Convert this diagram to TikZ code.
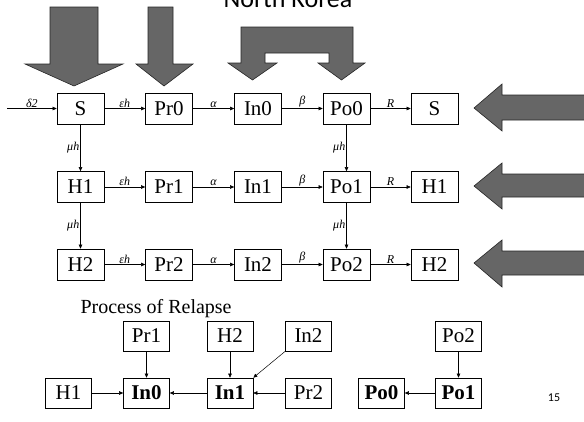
\documentclass[tikz,border=0pt]{standalone}
\usepackage{fontspec}
\setmainfont{Liberation Serif}
\newfontfamily\slidefont{Carlito}
\usepackage{tikz}
\usetikzlibrary{arrows.meta}

\begin{document}
\begin{tikzpicture}[x=1pt, y=-1pt,
    box/.style={draw, line width=0.6pt, minimum width=47pt, minimum height=31pt,
                inner sep=0pt, font=\fontsize{21}{21}\selectfont},
    sbox/.style={box, minimum width=46pt, minimum height=30pt},
    flow/.style={-{Triangle[length=4pt,width=3.5pt]}, line width=0.5pt},
    rate/.style={midway, above, inner sep=1pt, font=\fontsize{12}{12}\selectfont\itshape},
    vrate/.style={midway, left, inner sep=1pt, font=\fontsize{12}{12}\selectfont\itshape},
    bigarrow/.style={fill=black!60, draw=black!85, line width=0.6pt}
]

    \useasboundingbox (0,0) rectangle (584,421);
    \clip (0,0) rectangle (584,421);

    % Slide title (cut by the top edge)
    \node[anchor=base, font=\slidefont\fontsize{26}{26}\selectfont] (title) at (288,7) {North Korea};

    % Big arrows from above
    \draw[bigarrow] (50,7) -- (98,7) -- (98,64) -- (123,64) -- (74,86) -- (25,64) -- (50,64) -- cycle;
    \draw[bigarrow] (148,7) -- (173,7) -- (173,64) -- (193,64) -- (164,86) -- (136,64) -- (148,64) -- cycle;

    % U-shaped arrow onto In0 and Po0
    \draw[bigarrow] (241,27) -- (353,27) -- (353,63) -- (365,63) -- (341.5,80) -- (318,63)
        -- (329,63) -- (329,53) -- (265,53) -- (265,63) -- (277,63) -- (252.5,80)
        -- (228,63) -- (241,63) -- cycle;

    % Big arrows from the right
    \draw[bigarrow] (474,108) -- (502,84) -- (502,95) -- (590,95) -- (590,120) -- (502,120) -- (502,131) -- cycle;
    \draw[bigarrow] (474,186) -- (502,163) -- (502,174) -- (590,174) -- (590,197) -- (502,197) -- (502,209) -- cycle;
    \draw[bigarrow] (474,263) -- (502,240) -- (502,251) -- (590,251) -- (590,275) -- (502,275) -- (502,287) -- cycle;

    % Row 0
    \node[box] (S0) at (80.5,108.5) {S};
    \node[box] (Pr0) at (169,108.5) {Pr0};
    \node[box] (In0) at (258,108.5) {In0};
    \node[box] (Po0) at (346.5,108.5) {Po0};
    \node[box] (S0r) at (434.5,108.5) {S};
    \coordinate (d2) at (7,108.5);

    % Row 1
    \node[box] (H1) at (80.5,187) {H1};
    \node[box] (Pr1) at (169,187) {Pr1};
    \node[box] (In1) at (258,187) {In1};
    \node[box] (Po1) at (346.5,187) {Po1};
    \node[box] (H1r) at (434.5,187) {H1};

    % Row 2
    \node[box] (H2) at (80.5,264.5) {H2};
    \node[box] (Pr2) at (169,264.5) {Pr2};
    \node[box] (In2) at (258,264.5) {In2};
    \node[box] (Po2) at (346.5,264.5) {Po2};
    \node[box] (H2r) at (434.5,264.5) {H2};

    % Flows along the rows
    \draw[flow] (d2) -- node[rate] {δ2} (S0);
    \draw[flow] (S0) -- node[rate] {εh} (Pr0);
    \draw[flow] (Pr0) -- node[rate] {α} (In0);
    \draw[flow] (In0) -- node[rate] {β} (Po0);
    \draw[flow] (Po0) -- node[rate] {R} (S0r);

    \draw[flow] (H1) -- node[rate] {εh} (Pr1);
    \draw[flow] (Pr1) -- node[rate] {α} (In1);
    \draw[flow] (In1) -- node[rate] {β} (Po1);
    \draw[flow] (Po1) -- node[rate] {R} (H1r);

    \draw[flow] (H2) -- node[rate] {εh} (Pr2);
    \draw[flow] (Pr2) -- node[rate] {α} (In2);
    \draw[flow] (In2) -- node[rate] {β} (Po2);
    \draw[flow] (Po2) -- node[rate] {R} (H2r);

    % Flows down the columns
    \draw[flow] (S0) -- node[vrate] {μh} (H1);
    \draw[flow] (H1) -- node[vrate] {μh} (H2);
    \draw[flow] (Po0) -- node[vrate] {μh} (Po1);
    \draw[flow] (Po1) -- node[vrate] {μh} (Po2);

    % Process of relapse
    \node[anchor=base west, font=\fontsize{20}{20}\selectfont] (relapse) at (77,313) {Process of Relapse};

    \node[sbox] (rPr1) at (146.5,336) {Pr1};
    \node[sbox] (rH2) at (230,336) {H2};
    \node[sbox] (rIn2) at (308.5,336) {In2};
    \node[sbox] (rPo2) at (458.5,336) {Po2};

    \node[sbox] (rH1) at (68.5,393) {H1};
    \node[sbox, font=\fontsize{21}{21}\selectfont\bfseries] (rIn0) at (146.5,393) {In0};
    \node[sbox, font=\fontsize{21}{21}\selectfont\bfseries] (rIn1) at (230,393) {In1};
    \node[sbox] (rPr2) at (308.5,393) {Pr2};
    \node[sbox, font=\fontsize{21}{21}\selectfont\bfseries] (rPo0) at (381.5,393) {Po0};
    \node[sbox, font=\fontsize{21}{21}\selectfont\bfseries] (rPo1) at (458.5,393) {Po1};

    \draw[flow] (rPr1) -- (rIn0);
    \draw[flow] (rH2) -- (rIn1);
    \draw[flow] (rIn2.south west) -- (rIn1.north east);
    \draw[flow] (rPo2) -- (rPo1);
    \draw[flow] (rH1) -- (rIn0);
    \draw[flow] (rIn1) -- (rIn0);
    \draw[flow] (rPr2) -- (rIn1);
    \draw[flow] (rPo1) -- (rPo0);

    % Slide number
    \node[font=\slidefont\fontsize{12}{12}\selectfont] (pagenum) at (554,398) {15};
\end{tikzpicture}
\end{document}
